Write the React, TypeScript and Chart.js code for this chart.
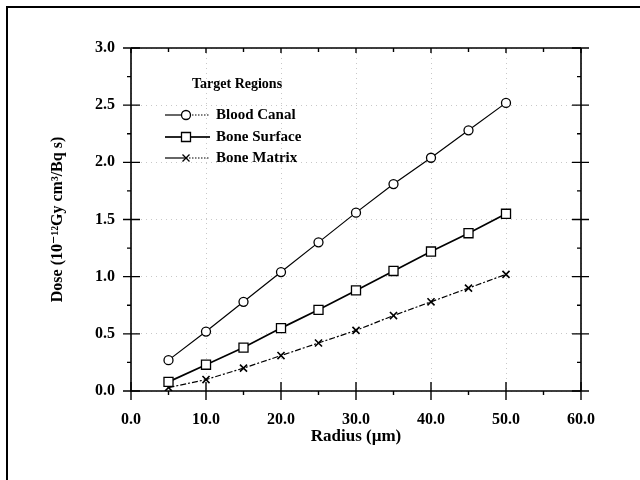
import React, { useEffect, useRef } from "react";
import { Chart, registerables } from "chart.js";

Chart.register(...registerables);

const radius = [5, 10, 15, 20, 25, 30, 35, 40, 45, 50];
const bloodCanal = [0.27, 0.52, 0.78, 1.04, 1.3, 1.56, 1.81, 2.04, 2.28, 2.52];
const boneSurface = [0.08, 0.23, 0.38, 0.55, 0.71, 0.88, 1.05, 1.22, 1.38, 1.55];
const boneMatrix = [0.03, 0.1, 0.2, 0.31, 0.42, 0.53, 0.66, 0.78, 0.9, 1.02];
const seriesNames = ["Blood Canal", "Bone Surface", "Bone Matrix"];
const legendTitle = "Target Regions";
const xTitle = "Radius (\u00b5m)";
const yTitle = "Dose (10\u207b\u00b9\u00b2Gy cm\u00b3/Bq s)";

const FONT = "'Liberation Serif', 'DejaVu Serif', serif";

const axesPlugin = {
  id: "axesTicks",
  beforeDatasetsDraw(chart: any) {
    const { ctx, chartArea, scales } = chart;
    const x = scales.x;
    const y = scales.y;
    const { left, right, top, bottom } = chartArea;
    ctx.save();
    ctx.strokeStyle = "#000";
    // frame
    ctx.lineWidth = 2;
    ctx.beginPath();
    ctx.moveTo(7, 480);
    ctx.lineTo(7, 7);
    ctx.lineTo(640, 7);
    ctx.stroke();
    // axes box
    ctx.lineWidth = 1.6;
    ctx.beginPath();
    ctx.moveTo(left, top);
    ctx.lineTo(right, top);
    ctx.moveTo(right, top);
    ctx.lineTo(right, bottom);
    ctx.moveTo(left, top);
    ctx.lineTo(left, bottom);
    ctx.lineTo(right, bottom);
    ctx.stroke();
    ctx.lineWidth = 1.4;
    ctx.beginPath();
    for (let v = 0; v <= 60; v += 5) {
      const px = x.getPixelForValue(v);
      if (v % 10 === 0) {
        ctx.moveTo(px, bottom - 9);
        ctx.lineTo(px, bottom + 9);
        ctx.moveTo(px, top);
        ctx.lineTo(px, top + 5);
      } else {
        ctx.moveTo(px, bottom);
        ctx.lineTo(px, bottom + 4);
        ctx.moveTo(px, top);
        ctx.lineTo(px, top + 4);
      }
    }
    for (let i = 0; i <= 12; i++) {
      const v = i * 0.25;
      const py = y.getPixelForValue(v);
      if (i % 2 === 0) {
        ctx.moveTo(left - 8, py);
        ctx.lineTo(left + 9, py);
        ctx.moveTo(right - 9, py);
        ctx.lineTo(right + 8, py);
      } else {
        ctx.moveTo(left - 4, py);
        ctx.lineTo(left, py);
        ctx.moveTo(right - 4, py);
        ctx.lineTo(right, py);
      }
    }
    ctx.stroke();
    ctx.restore();
  },
};

const legendPlugin = {
  id: "customLegend",
  afterDraw(chart: any) {
    const { ctx } = chart;
    ctx.save();
    ctx.fillStyle = "#000";
    ctx.strokeStyle = "#000";
    ctx.font = `bold 14px ${FONT}`;
    ctx.textBaseline = "middle";
    ctx.textAlign = "left";
    ctx.fillText(legendTitle, 192, 84);
    ctx.font = `bold 15px ${FONT}`;
    const rows = [115, 137, 158];
    const x0 = 165;
    const x1 = 210;
    const mx = 186;
    rows.forEach((ry, i) => {
      const ds = chart.data.datasets[i];
      ctx.lineWidth = ds.borderWidth;
      ctx.setLineDash([]);
      ctx.beginPath();
      ctx.moveTo(x0, ry);
      ctx.lineTo(mx, ry);
      ctx.stroke();
      if (i !== 1) ctx.setLineDash([1.5, 1.5]);
      ctx.beginPath();
      ctx.moveTo(mx, ry);
      ctx.lineTo(x1, ry);
      ctx.stroke();
      ctx.setLineDash([]);
      ctx.lineWidth = 1.3;
      ctx.fillStyle = "#fff";
      ctx.beginPath();
      if (i === 0) {
        ctx.arc(mx, ry, 4.5, 0, Math.PI * 2);
        ctx.fill();
        ctx.stroke();
      } else if (i === 1) {
        ctx.rect(mx - 4.5, ry - 4.5, 9, 9);
        ctx.fill();
        ctx.stroke();
      } else {
        ctx.moveTo(mx - 3.5, ry - 3.5);
        ctx.lineTo(mx + 3.5, ry + 3.5);
        ctx.moveTo(mx - 3.5, ry + 3.5);
        ctx.lineTo(mx + 3.5, ry - 3.5);
        ctx.stroke();
      }
      ctx.fillStyle = "#000";
      ctx.fillText(seriesNames[i], 216, ry);
    });
    ctx.restore();
  },
};

export default function App() {
  const ref = useRef<HTMLCanvasElement>(null);
  useEffect(() => {
    if (!ref.current) return;
    const mk = (vals: number[]) => radius.map((r, i) => ({ x: r, y: vals[i] }));
    const chart = new Chart(ref.current, {
      type: "line",
      data: {
        datasets: [
          {
            label: seriesNames[0],
            data: mk(bloodCanal),
            borderColor: "#000",
            borderWidth: 1.2,
            pointStyle: "circle",
            pointRadius: 4.5,
            pointBorderWidth: 1.3,
            pointBackgroundColor: "#fff",
            pointBorderColor: "#000",
          },
          {
            label: seriesNames[1],
            data: mk(boneSurface),
            borderColor: "#000",
            borderWidth: 1.7,
            pointStyle: "rect",
            pointRadius: 6.4,
            pointBorderWidth: 1.3,
            pointBackgroundColor: "#fff",
            pointBorderColor: "#000",
          },
          {
            label: seriesNames[2],
            data: mk(boneMatrix),
            borderColor: "#000",
            borderWidth: 1.2,
            borderDash: [6, 2, 2, 2],
            pointStyle: "crossRot",
            pointRadius: 5,
            pointBorderWidth: 1.6,
            pointBorderColor: "#000",
          },
        ],
      },
      options: {
        animation: false,
        responsive: false,
        layout: { padding: { left: 0, right: 59, top: 48, bottom: 0 } },
        plugins: { legend: { display: false }, tooltip: { enabled: false } },
        scales: {
          x: {
            type: "linear",
            min: 0,
            max: 60,
            afterFit: (s: any) => {
              s.height = 89;
            },
            ticks: {
              stepSize: 10,
              padding: 19,
              color: "#000",
              font: { family: FONT, size: 16, weight: "bold" },
              callback: (v: any) => Number(v).toFixed(1),
            },
            grid: {
              drawTicks: false,
              color: "#c8c8c8",
              lineWidth: 1,
            },
            border: { display: false, dash: [1, 4] },
            title: {
              display: true,
              text: xTitle,
              color: "#000",
              font: { family: FONT, size: 17, weight: "bold" },
              padding: { top: 0, bottom: 33 },
            },
          },
          y: {
            type: "linear",
            min: 0,
            max: 3,
            afterFit: (s: any) => {
              s.width = 131;
            },
            ticks: {
              stepSize: 0.5,
              padding: 16,
              color: "#000",
              font: { family: FONT, size: 16, weight: "bold" },
              callback: (v: any) => Number(v).toFixed(1),
            },
            grid: {
              drawTicks: false,
              color: "#c8c8c8",
              lineWidth: 1,
            },
            border: { display: false, dash: [1, 4] },
            title: {
              display: true,
              text: yTitle,
              color: "#000",
              font: { family: FONT, size: 16, weight: "bold" },
              padding: { top: 48, bottom: 0 },
            },
          },
        },
      },
      plugins: [axesPlugin, legendPlugin],
    } as any);
    return () => chart.destroy();
  }, []);
  return (
    <div style={{ position: "absolute", left: 0, top: 0, width: 640, height: 480, background: "#fff" }}>
      <canvas ref={ref} width={640} height={480} style={{ display: "block" }} />
    </div>
  );
}
